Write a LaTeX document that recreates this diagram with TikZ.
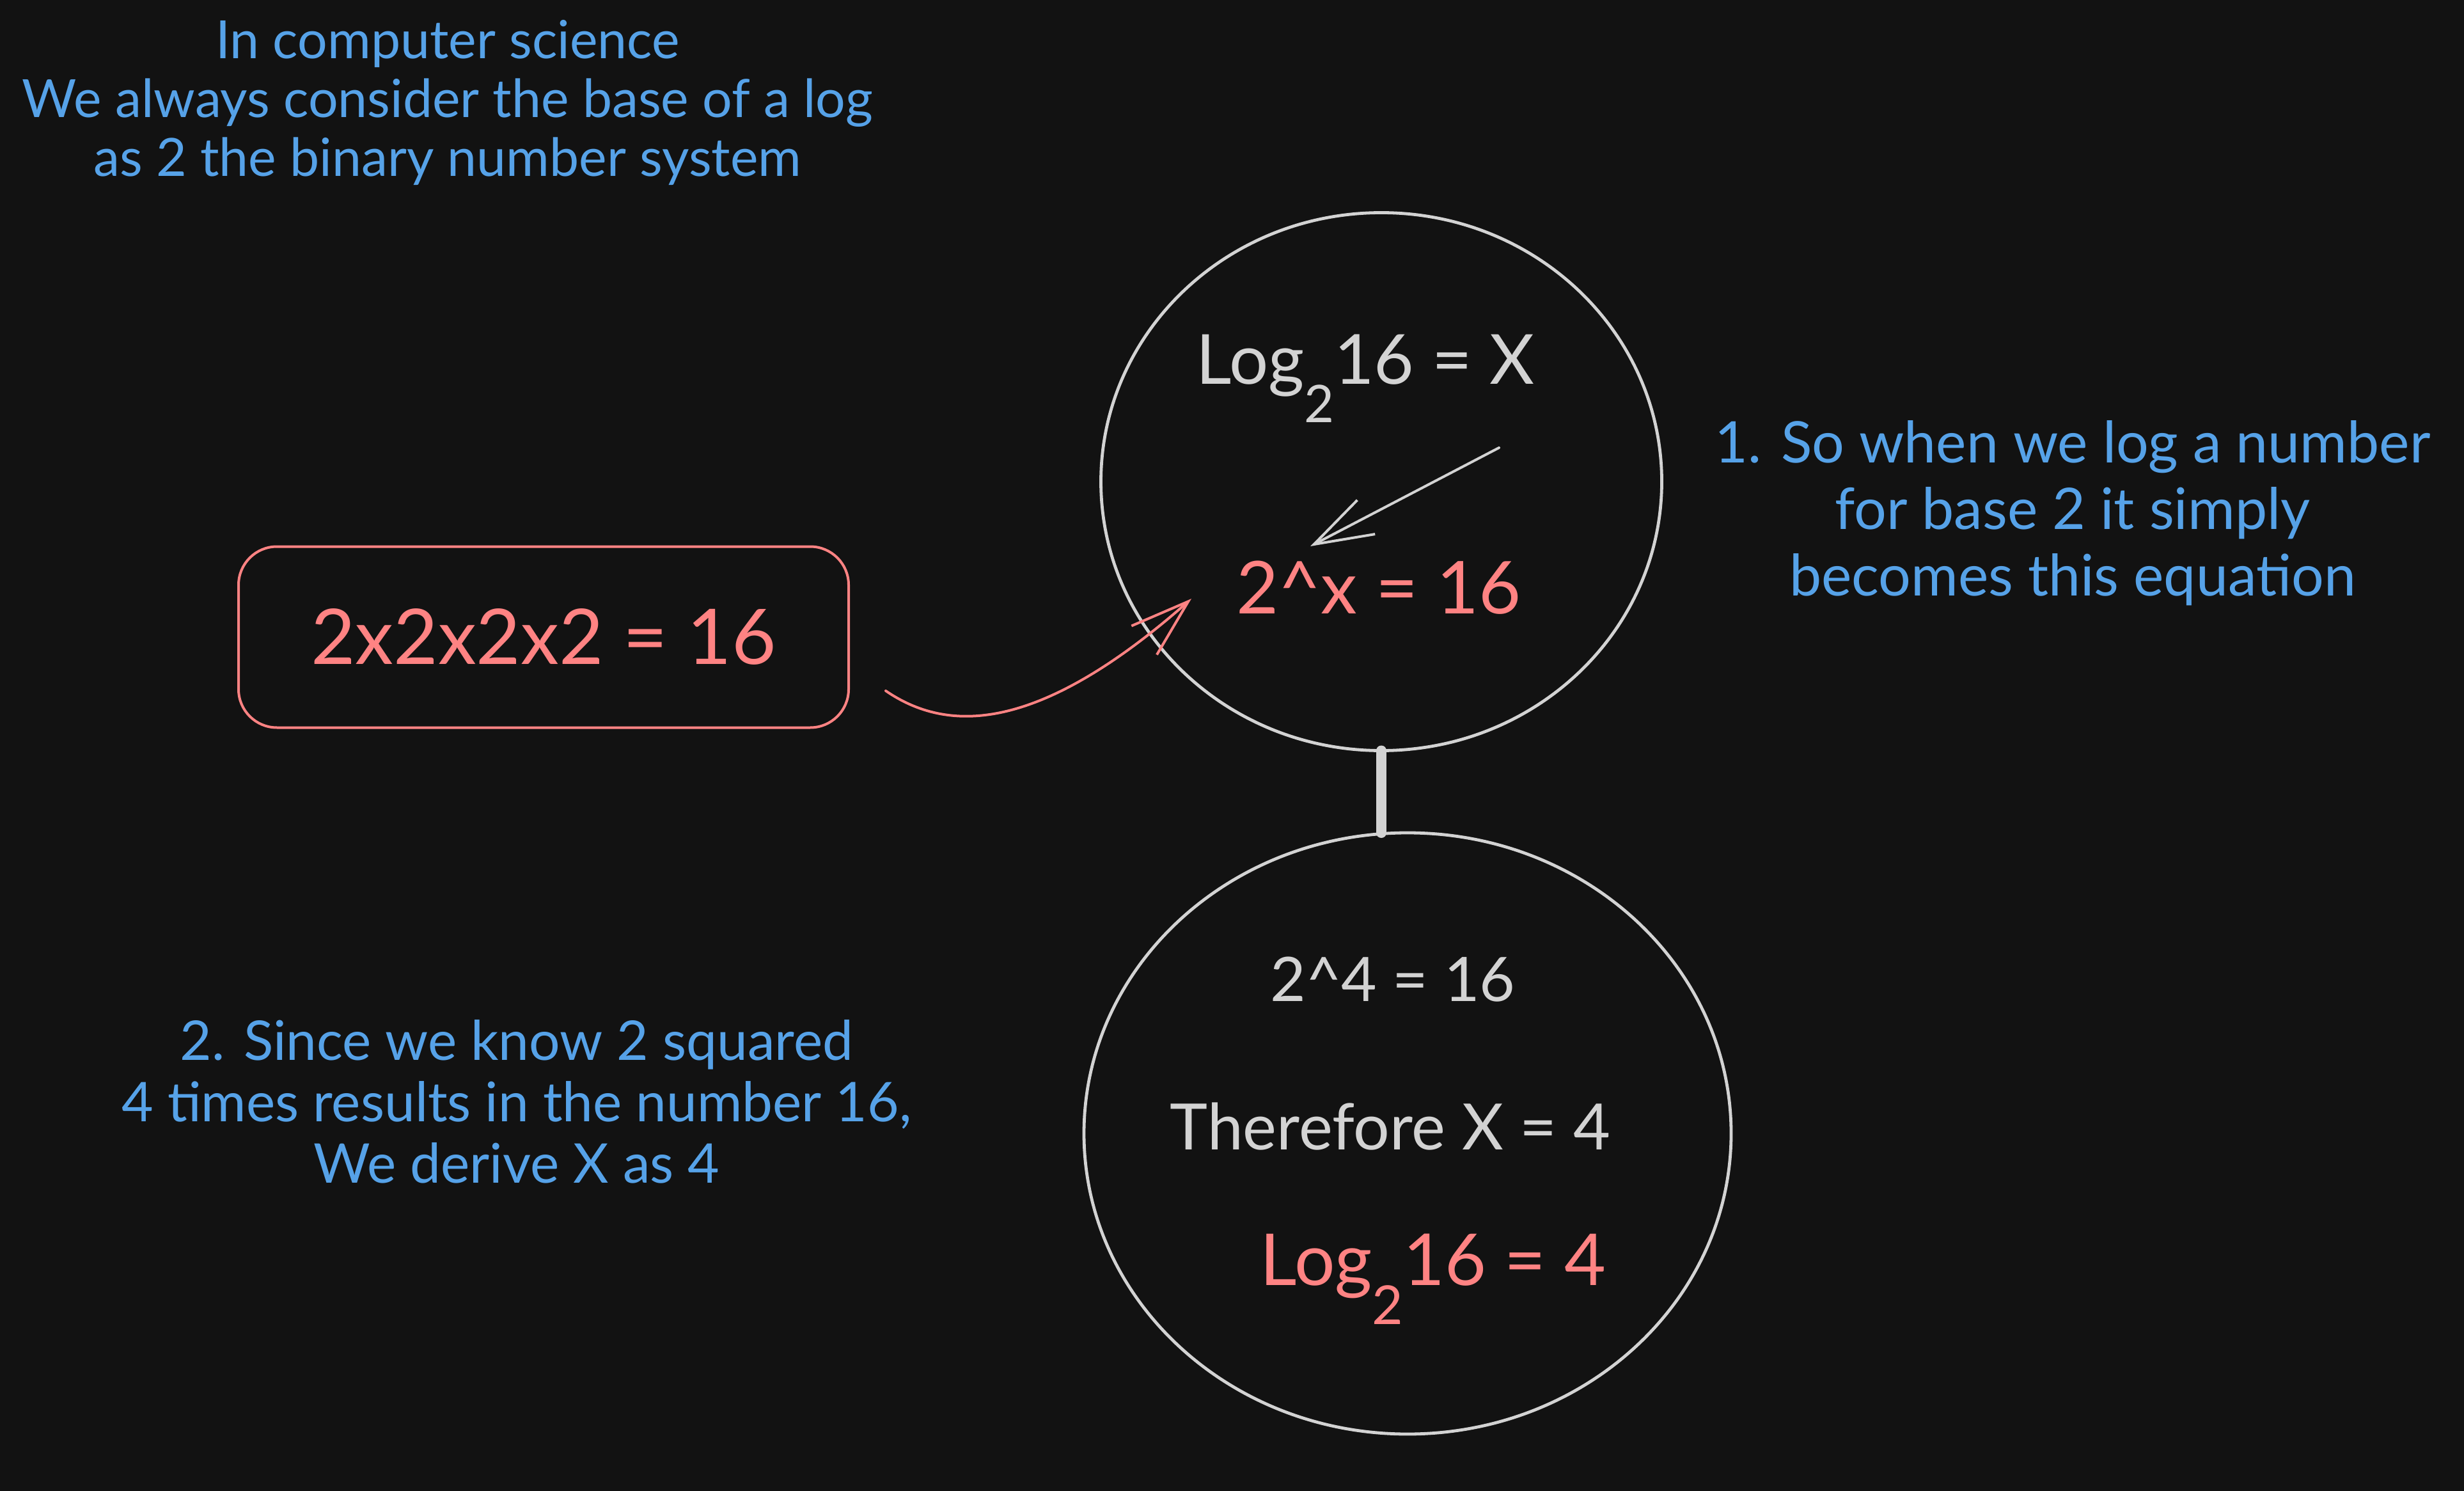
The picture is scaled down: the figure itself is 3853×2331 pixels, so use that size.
\documentclass[tikz,border=0pt]{standalone}
\usepackage{fontspec}
\usepackage{graphicx}
\setmainfont{Lato}
\usetikzlibrary{shapes.geometric,arrows.meta,positioning}

\definecolor{bg}{HTML}{121212}
\definecolor{chalk}{HTML}{D3D3D3}
\definecolor{coral}{HTML}{FF8383}
\definecolor{sky}{HTML}{56A2E8}

\newcommand{\basetwo}{\raisebox{-0.55em}{\scalebox{0.75}{2}}}

\tikzset{
  note/.style={text=sky, align=center, inner sep=0pt},
  eqn/.style={inner sep=0pt, anchor=base},
  ring/.style={draw=chalk, ellipse, line width=1.2pt, inner sep=0pt, outer sep=0pt},
  sketch/.style={-{Straight Barb[length=23pt,width=15pt]}, line width=1pt},
}

\begin{document}
\begin{tikzpicture}[x=0.25pt, y=-0.25pt, line cap=round, line join=round]
  \fill[bg] (0,0) rectangle (3853,2331);

  % side notes
  \node[note, font=\fontsize{20.6}{23}\selectfont] (intro) at (700,161)
    {In computer science\\We always consider the base of a log\\as 2 the binary number system};
  \node[note, font=\fontsize{22.4}{26}\selectfont] (step1) at (3241,802)
    {1. So when we log a number\\for base 2 it simply\\becomes this equation};
  \node[note, font=\fontsize{21.4}{24}\selectfont] (step2) at (808,1722)
    {2. Since we know 2 squared\\4 times results in the number 16,\\We derive X as 4};

  % the two circles
  \node[ring, minimum width=219.25pt, minimum height=210.25pt] (top) at (2160,753) {};
  \node[ring, minimum width=253pt, minimum height=235pt] (bottom) at (2201,1772) {};
  \draw[chalk, line width=4pt] (top.south) -- (top.south |- bottom.north);

  % equations
  \node[eqn, text=chalk, font=\fontsize{27}{32}\selectfont] (logx) at (2135,601) {Log\basetwo16 = X};
  \node[eqn, text=coral, font=\fontsize{28.5}{32}\selectfont] (pow) at (2156,960) {2\^{}x = 16};
  \node[eqn, text=chalk, font=\fontsize{24}{28}\selectfont] (four) at (2178,1565) {2\^{}4 = 16};
  \node[eqn, text=chalk, font=\fontsize{25}{28}\selectfont] (hence) at (2174,1797) {Therefore X = 4};
  \node[eqn, text=coral, font=\fontsize{28}{32}\selectfont] (result) at (2241,2009) {Log\basetwo16 = 4};

  % red box
  \node[draw=coral, line width=1pt, rounded corners=15pt, minimum width=238.5pt,
        minimum height=70.75pt, text=coral, font=\fontsize{30}{34}\selectfont] (box) at (850,996)
    {2x2x2x2 = 16};

  % arrows
  \coordinate (from) at (2344,700);
  \coordinate (into) at (2049,854);
  \draw[sketch, chalk] (from) -- (into);
  \coordinate (tail) at (1385,1080);
  \coordinate (head) at (1863,936);
  \draw[sketch, coral] (tail) .. controls (1480,1145) and (1620,1150) .. (head);
\end{tikzpicture}
\end{document}
